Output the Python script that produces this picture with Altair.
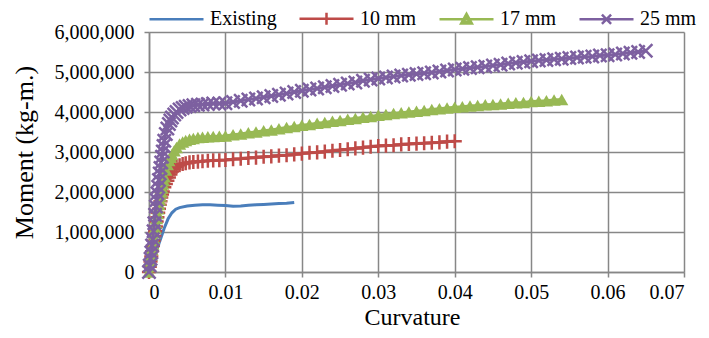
import altair as alt
import pandas as pd

# ---- data (moment values in millions of kg-m.) ----
series_names = ["Existing", "10 mm", "17 mm", "25 mm"]
series_colors = ["#4A7EBB", "#BE4B48", "#98B954", "#7D60A0"]

existing_x = [0, 0.0005, 0.001, 0.0015, 0.002, 0.0025, 0.003, 0.0035, 0.004, 0.005, 0.006, 0.007,
              0.008, 0.009, 0.010, 0.011, 0.012, 0.013, 0.014, 0.015, 0.016, 0.017, 0.018, 0.019]
existing_y = [0, 0.30, 0.55, 0.82, 1.10, 1.33, 1.48, 1.57, 1.61, 1.65, 1.67, 1.68,
              1.68, 1.67, 1.66, 1.645, 1.65, 1.67, 1.68, 1.69, 1.70, 1.71, 1.72, 1.74]

mm10_x = [0, 0.0001, 0.0002, 0.0003, 0.0004, 0.0005, 0.0006, 0.0007, 0.0008, 0.0009, 0.001,
          0.0011, 0.0012, 0.0013, 0.0014, 0.0015, 0.0016, 0.0017, 0.0018, 0.002, 0.0022, 0.0024,
          0.0026, 0.0028, 0.003, 0.0033, 0.0036, 0.004, 0.0044, 0.0048, 0.0053, 0.0058, 0.0064,
          0.007, 0.0077, 0.0084, 0.0092, 0.010, 0.011, 0.012, 0.013, 0.014, 0.015, 0.016, 0.017,
          0.018, 0.019, 0.020, 0.021, 0.022, 0.023, 0.024, 0.025, 0.026, 0.027, 0.028, 0.029,
          0.030, 0.031, 0.032, 0.033, 0.034, 0.035, 0.036, 0.037, 0.038, 0.039, 0.040]
mm10_y = [0, 0.13, 0.26, 0.39, 0.52, 0.65, 0.78, 0.90, 1.02, 1.14, 1.26,
          1.37, 1.48, 1.58, 1.68, 1.77, 1.86, 1.94, 2.01, 2.12, 2.20, 2.28,
          2.36, 2.44, 2.51, 2.58, 2.63, 2.67, 2.70, 2.72, 2.74, 2.75, 2.76,
          2.77, 2.78, 2.79, 2.795, 2.80, 2.82, 2.83, 2.85, 2.86, 2.88, 2.89, 2.91,
          2.92, 2.94, 2.96, 2.98, 2.99, 3.01, 3.03, 3.05, 3.07, 3.09, 3.11, 3.13,
          3.15, 3.16, 3.17, 3.19, 3.20, 3.21, 3.22, 3.23, 3.24, 3.26, 3.27]

mm17_x = [0, 0.0001, 0.0002, 0.0003, 0.0004, 0.0005, 0.0006, 0.0007, 0.0008, 0.0009, 0.001,
          0.0011, 0.0012, 0.0013, 0.0014, 0.0015, 0.0016, 0.0017, 0.0018, 0.0019, 0.002, 0.0022,
          0.0024, 0.0026, 0.0028, 0.003, 0.0033, 0.0036, 0.004, 0.0044, 0.0048, 0.0053, 0.0058,
          0.0064, 0.007, 0.0077, 0.0084, 0.0092, 0.010, 0.011, 0.012, 0.013, 0.014, 0.015, 0.016,
          0.017, 0.018, 0.019, 0.020, 0.021, 0.022, 0.023, 0.024, 0.025, 0.026, 0.027, 0.028,
          0.029, 0.030, 0.031, 0.032, 0.033, 0.034, 0.035, 0.036, 0.037, 0.038, 0.039, 0.040,
          0.041, 0.042, 0.043, 0.044, 0.045, 0.046, 0.047, 0.048, 0.049, 0.050, 0.051, 0.052,
          0.053, 0.054]
mm17_y = [0, 0.14, 0.28, 0.42, 0.56, 0.70, 0.84, 0.98, 1.10, 1.22, 1.34,
          1.46, 1.58, 1.69, 1.80, 1.90, 2.00, 2.10, 2.20, 2.29, 2.38, 2.55,
          2.69, 2.79, 2.87, 2.94, 3.03, 3.11, 3.20, 3.25, 3.29, 3.32, 3.34,
          3.36, 3.37, 3.38, 3.39, 3.395, 3.40, 3.43, 3.45, 3.48, 3.50, 3.53, 3.55,
          3.58, 3.61, 3.64, 3.67, 3.69, 3.72, 3.74, 3.77, 3.79, 3.82, 3.84, 3.87,
          3.89, 3.92, 3.94, 3.96, 3.98, 4.00, 4.02, 4.04, 4.06, 4.08, 4.10, 4.12,
          4.13, 4.15, 4.16, 4.18, 4.19, 4.20, 4.22, 4.23, 4.24, 4.26, 4.27, 4.28,
          4.30, 4.31]

mm25_x = [0, 0.0001, 0.0002, 0.0003, 0.0004, 0.0005, 0.0006, 0.0007, 0.0008, 0.0009, 0.001,
          0.0011, 0.0012, 0.0013, 0.0014, 0.0015, 0.0016, 0.0017, 0.0018, 0.0019, 0.002, 0.0022,
          0.0024, 0.0026, 0.0028, 0.003, 0.0033, 0.0036, 0.004, 0.0044, 0.0048, 0.0053, 0.0058,
          0.0064, 0.007, 0.0077, 0.0084, 0.0092, 0.010, 0.011, 0.012, 0.013, 0.014, 0.015, 0.016,
          0.017, 0.018, 0.019, 0.020, 0.021, 0.022, 0.023, 0.024, 0.025, 0.026, 0.027, 0.028,
          0.029, 0.030, 0.031, 0.032, 0.033, 0.034, 0.035, 0.036, 0.037, 0.038, 0.039, 0.040,
          0.041, 0.042, 0.043, 0.044, 0.045, 0.046, 0.047, 0.048, 0.049, 0.050, 0.051, 0.052,
          0.053, 0.054, 0.055, 0.056, 0.057, 0.058, 0.059, 0.060, 0.061, 0.062, 0.063, 0.064,
          0.065]
mm25_y = [0, 0.16, 0.33, 0.49, 0.66, 0.82, 1.02, 1.22, 1.43, 1.64, 1.80,
          1.97, 2.13, 2.30, 2.46, 2.60, 2.74, 2.88, 3.01, 3.15, 3.28, 3.45,
          3.59, 3.70, 3.79, 3.86, 3.94, 4.00, 4.06, 4.10, 4.13, 4.15, 4.17,
          4.18, 4.19, 4.20, 4.21, 4.215, 4.22, 4.25, 4.28, 4.31, 4.34, 4.37, 4.40,
          4.43, 4.46, 4.50, 4.53, 4.56, 4.59, 4.62, 4.65, 4.68, 4.71, 4.74, 4.78,
          4.81, 4.84, 4.86, 4.89, 4.91, 4.93, 4.95, 4.97, 4.99, 5.01, 5.04, 5.06,
          5.08, 5.10, 5.12, 5.14, 5.16, 5.18, 5.21, 5.23, 5.25, 5.27, 5.29, 5.30,
          5.32, 5.33, 5.35, 5.36, 5.38, 5.39, 5.41, 5.42, 5.44, 5.46, 5.48, 5.50,
          5.53]

x_ticks = [0, 0.01, 0.02, 0.03, 0.04, 0.05, 0.06, 0.07]
y_ticks = [0, 1000000, 2000000, 3000000, 4000000, 5000000, 6000000]

FONT = "Liberation Serif"
GRID = "#878787"

series_data = [
    ("Existing", existing_x, existing_y, None),
    ("10 mm", mm10_x, mm10_y, "plus"),
    ("17 mm", mm17_x, mm17_y, "triangle"),
    ("25 mm", mm25_x, mm25_y, "x"),
]

# legend symbols: line segment with the series marker in the middle
legend_paths = [
    "M-1,0L1,0",
    "M-1,0L1,0M0,-0.22L0,0.22",
    "M-0.2,0.16L0,-0.2L0.2,0.16ZM-0.11,0.1L0,-0.09L0.11,0.1ZM-1,0L1,0",
    "M-1,0L1,0M-0.17,-0.17L0.17,0.17M-0.17,0.17L0.17,-0.17",
]

common_axis = dict(
    labelFont=FONT,
    labelFontSize=20,
    labelColor="black",
    titleFont=FONT,
    titleFontWeight="normal",
    titleColor="black",
    gridColor=GRID,
    gridWidth=1.5,
    gridOpacity=1,
    domainColor=GRID,
    domainWidth=1.5,
    tickColor=GRID,
    tickWidth=1.5,
    tickSize=5,
)

PLOT_W = 535
PLOT_H = 240

x_enc = alt.X(
    "x:Q",
    scale=alt.Scale(domain=[0, 0.07], nice=False),
    axis=alt.Axis(
        values=x_ticks,
        format="~g",
        title="Curvature",
        titleFontSize=24,
        titleX=263,
        titleY=52,
        titleBaseline="alphabetic",
        labelPadding=5,
        **common_axis,
    ),
)
y_enc = alt.Y(
    "y:Q",
    scale=alt.Scale(domain=[0, 6000000], nice=False),
    axis=alt.Axis(
        values=y_ticks,
        format=",d",
        title="Moment (kg-m.)",
        titleFontSize=26,
        titleX=-117,
        titleY=120,
        titleAngle=-90,
        titleBaseline="alphabetic",
        labelPadding=10,
        **common_axis,
    ),
)

layers = []
for name, xs, ys, marker in series_data:
    df = pd.DataFrame({
        "series": name,
        "x": xs,
        "y": [v * 1000000 for v in ys],
        "idx": list(range(len(xs))),
    })
    color = series_colors[series_names.index(name)]
    base = alt.Chart(df)
    line = base.mark_line(strokeWidth=3, color=color).encode(
        x=x_enc, y=y_enc, order="idx:Q"
    )
    layers.append(line)
    if marker == "plus":
        pts = base.mark_point(shape="M0,-1L0,1M-1,0L1,0", size=200, filled=False,
                              strokeWidth=2.5, color=color, opacity=1)
    elif marker == "triangle":
        pts = base.mark_point(shape="triangle-up", size=175, filled=True,
                              color=color, opacity=1)
    elif marker == "x":
        pts = base.mark_point(shape="M-1,-1L1,1M-1,1L1,-1", size=175, filled=False,
                              strokeWidth=2.5, color=color, opacity=1)
    else:
        pts = None
    if pts is not None:
        layers.append(pts.encode(x=x_enc, y=y_enc))

# legend-only layer (no drawable positions; provides the shared legend)
legend_df = pd.DataFrame({"series": series_names, "x": [None] * 4, "y": [None] * 4})
legend = alt.Legend(
    title=None,
    orient="none",
    legendX=-1,
    legendY=-42,
    direction="horizontal",
    columns=4,
    labelFont=FONT,
    labelFontSize=20,
    labelColor="black",
    labelOffset=5,
    columnPadding=17,
    padding=0,
    symbolSize=2916,
    symbolStrokeWidth=2.5,
    symbolOpacity=1,
)
legend_layer = alt.Chart(legend_df).mark_point(filled=False, opacity=1).encode(
    x=x_enc,
    y=y_enc,
    color=alt.Color("series:N", scale=alt.Scale(domain=series_names, range=series_colors),
                    legend=legend),
    shape=alt.Shape("series:N", scale=alt.Scale(domain=series_names, range=legend_paths),
                    legend=legend),
)
layers.append(legend_layer)

chart = alt.layer(*layers).properties(
    width=PLOT_W,
    height=PLOT_H,
    padding={"left": 141, "top": 24, "right": 17, "bottom": 58},
    autosize=alt.AutoSizeParams(type="none"),
).configure(
    font=FONT,
).configure_view(
    stroke=None
).configure_axis(
    **common_axis
)

chart.save("out.html", embed_options={"renderer": "svg", "actions": False})
